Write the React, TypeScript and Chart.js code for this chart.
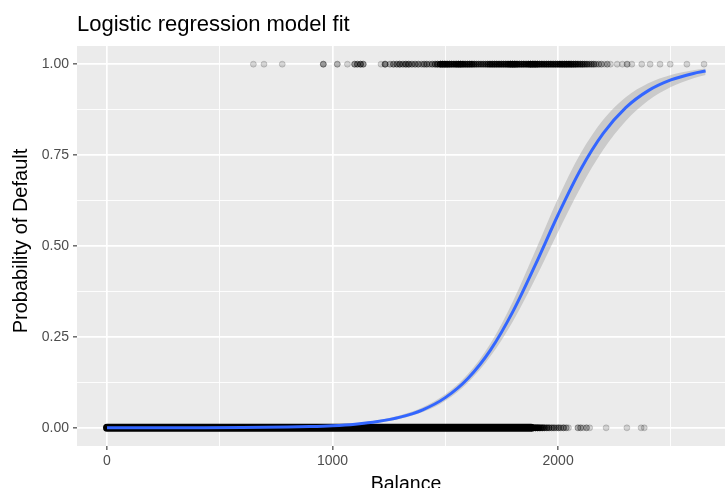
import React, { useEffect, useRef } from "react";
import { Chart, registerables } from "chart.js";

Chart.register(...registerables);

// Fitted logistic curve: balance grid, fitted probability and 95% band
const fitBalance = [0, 200, 400, 600, 800, 900, 1000, 1100, 1200, 1300, 1400, 1500, 1600, 1700, 1800, 1900, 2000, 2100, 2200, 2300, 2400, 2500, 2600, 2654];
const fitProb = [0.00002, 0.00007, 0.00021, 0.00064, 0.00192, 0.00333, 0.00575, 0.00993, 0.0171, 0.0293, 0.0496, 0.083, 0.1356, 0.2137, 0.3202, 0.4494, 0.5859, 0.7103, 0.8094, 0.8804, 0.9273, 0.9567, 0.9746, 0.981];
const fitLower = [0.00001, 0.00004, 0.00013, 0.00041, 0.00133, 0.0024, 0.00433, 0.00777, 0.01393, 0.02477, 0.04346, 0.0747, 0.1242, 0.1965, 0.2934, 0.4111, 0.5388, 0.6609, 0.7644, 0.8437, 0.9, 0.9373, 0.9613, 0.9703];
const fitUpper = [0.00005, 0.00013, 0.00037, 0.00101, 0.00278, 0.00462, 0.00765, 0.01268, 0.02096, 0.03452, 0.05656, 0.092, 0.1477, 0.2319, 0.3482, 0.4883, 0.6315, 0.7552, 0.8475, 0.9093, 0.9477, 0.9704, 0.9834, 0.9879];

// Defaulters (y = 1): [balance, number of customers at that balance]
const defaultObs: [number, number][] = [
  [649, 1], [696, 1], [777, 1], [959, 3], [1021, 2], [1066, 1], [1098, 3], [1110, 3], [1124, 4], [1136, 3],
  [1215, 1], [1233, 4], [1255, 2], [1270, 3], [1285, 3], [1298, 4], [1312, 3], [1325, 4], [1338, 4], [1352, 3],
  [1366, 3], [1380, 3], [1394, 2], [1406, 3], [1418, 3], [1430, 2], [1442, 3], [1455, 4], [1466, 5], [1478, 8],
  [1488, 8], [1498, 8], [1508, 8], [1518, 7], [1528, 6], [1538, 6], [1548, 7], [1558, 8], [1568, 8], [1578, 7],
  [1588, 6], [1598, 6], [1608, 6], [1618, 6], [1628, 5], [1638, 4], [1648, 4], [1658, 4], [1668, 4], [1678, 4],
  [1688, 5], [1698, 6], [1708, 6], [1718, 6], [1728, 6], [1738, 6], [1748, 6], [1758, 6], [1768, 6], [1778, 7],
  [1788, 9], [1798, 9], [1808, 9], [1818, 8], [1828, 6], [1838, 6], [1848, 6], [1858, 6], [1868, 7], [1878, 9],
  [1888, 9], [1898, 9], [1908, 8], [1918, 6], [1928, 6], [1938, 6], [1948, 6], [1958, 6], [1968, 6], [1978, 6],
  [1988, 6], [1998, 6], [2008, 7], [2018, 7], [2028, 7], [2038, 7], [2048, 7], [2058, 7], [2068, 6], [2078, 6],
  [2088, 5], [2098, 5], [2108, 5], [2118, 4], [2128, 4], [2138, 3], [2148, 3], [2158, 3], [2168, 2], [2180, 2],
  [2192, 2], [2205, 1], [2218, 2], [2232, 1], [2262, 1], [2285, 1], [2306, 2], [2327, 1], [2371, 1], [2408, 1],
  [2452, 1], [2497, 1], [2571, 1], [2647, 1],
];

// Non-defaulters (y = 0): balances where the points merge into one solid band
const nonDefaultSolidRange = [0, 1880];
// Non-defaulters above that band: [balance, count]
const nonDefaultTail: [number, number][] = [
  [1884, 8], [1892, 8], [1900, 7], [1908, 7], [1916, 6], [1924, 5], [1932, 5], [1940, 4], [1950, 4], [1960, 4],
  [1972, 3], [1982, 3], [1992, 2], [2002, 3], [2012, 2], [2024, 3], [2036, 2], [2046, 1], [2088, 2], [2100, 2],
  [2112, 1], [2126, 2], [2140, 1], [2213, 1], [2305, 1], [2368, 1], [2382, 1],
];

// Axis ticks
const xMajorTicks = [0, 1000, 2000];
const xMinorTicks = [500, 1500, 2500];
const yMajorTicks = [0, 0.25, 0.5, 0.75, 1];
const yMinorTicks = [0.125, 0.375, 0.625, 0.875];
const yTickLabels = ["0.00", "0.25", "0.50", "0.75", "1.00"];

const X_MIN = -133;
const X_MAX = 2740;
const Y_MIN = -0.05;
const Y_MAX = 1.05;

const FONT = '"Liberation Sans", Arial, Helvetica, sans-serif';
const PANEL_BG = "#EBEBEB";
const POINT_COLOR = "rgba(0,0,0,0.15)";

const expand = (obs: [number, number][], y: number) =>
  obs.flatMap(([b, n]) => Array.from({ length: n }, () => ({ x: b, y })));

const panelPlugin = {
  id: "panelDecor",
  beforeDraw(chart: any) {
    const { ctx, chartArea } = chart;
    ctx.save();
    ctx.fillStyle = PANEL_BG;
    ctx.fillRect(chartArea.left, chartArea.top, chartArea.right - chartArea.left, chartArea.bottom - chartArea.top);
    ctx.restore();
  },
  afterDraw(chart: any) {
    const { ctx, chartArea } = chart;
    ctx.save();
    ctx.fillStyle = "#000000";
    ctx.font = `22px ${FONT}`;
    ctx.textAlign = "left";
    ctx.textBaseline = "alphabetic";
    ctx.fillText("Logistic regression model fit", chartArea.left, 31);

    ctx.font = `19.5px ${FONT}`;
    ctx.textAlign = "center";
    ctx.fillText("Balance", 406, 490);

    ctx.font = `20px ${FONT}`;
    ctx.translate(27, (chartArea.top + chartArea.bottom) / 2 - 5);
    ctx.rotate(-Math.PI / 2);
    ctx.fillText("Probability of Default", 0, 0);
    ctx.restore();
  },
};

export default function App() {
  const canvasRef = useRef<HTMLCanvasElement | null>(null);

  useEffect(() => {
    document.body.style.margin = "0";
    const canvas = canvasRef.current;
    if (!canvas) return;

    const curve = (vals: number[]) => fitBalance.map((b, i) => ({ x: b, y: vals[i] }));
    const isMajor = (list: number[], v: number) => list.some((m) => Math.abs(m - v) < 1e-9);

    const chart = new Chart(canvas, {
      type: "scatter",
      data: {
        datasets: [
          {
            type: "line",
            label: "non-default band",
            data: nonDefaultSolidRange.map((b) => ({ x: b, y: 0 })),
            borderColor: "#000000",
            borderWidth: 8,
            borderCapStyle: "round",
            pointRadius: 0,
            fill: false,
            order: 4,
          } as any,
          {
            type: "scatter",
            label: "non-default",
            data: expand(nonDefaultTail, 0),
            backgroundColor: POINT_COLOR,
            borderColor: POINT_COLOR,
            borderWidth: 1,
            pointRadius: 3,
            order: 3,
          },
          {
            type: "scatter",
            label: "default",
            data: expand(defaultObs, 1),
            backgroundColor: POINT_COLOR,
            borderColor: POINT_COLOR,
            borderWidth: 1,
            pointRadius: 3,
            order: 3,
          },
          {
            type: "line",
            label: "lower",
            data: curve(fitLower),
            borderWidth: 0,
            borderColor: "rgba(0,0,0,0)",
            pointRadius: 0,
            fill: false,
            cubicInterpolationMode: "monotone",
            order: 2,
          } as any,
          {
            type: "line",
            label: "upper",
            data: curve(fitUpper),
            borderWidth: 0,
            borderColor: "rgba(0,0,0,0)",
            backgroundColor: "rgba(153,153,153,0.4)",
            pointRadius: 0,
            fill: "-1",
            cubicInterpolationMode: "monotone",
            order: 2,
          } as any,
          {
            type: "line",
            label: "fit",
            data: curve(fitProb),
            borderColor: "#3366FF",
            borderWidth: 3,
            pointRadius: 0,
            fill: false,
            cubicInterpolationMode: "monotone",
            order: 1,
          } as any,
        ],
      },
      options: {
        responsive: false,
        animation: false,
        events: [],
        layout: { autoPadding: false, padding: { top: 46, left: 0, right: 0, bottom: 0 } },
        plugins: {
          legend: { display: false },
          tooltip: { enabled: false },
          title: { display: false },
        },
        scales: {
          x: {
            type: "linear",
            position: "bottom",
            min: X_MIN,
            max: X_MAX,
            afterBuildTicks: (s: any) => {
              s.ticks = [...xMajorTicks, ...xMinorTicks].sort((a, b) => a - b).map((v) => ({ value: v }));
            },
            afterFit: (s: any) => {
              s.height = 42;
              s.paddingLeft = 0;
              s.paddingRight = 0;
            },
            ticks: {
              autoSkip: false,
              maxRotation: 0,
              minRotation: 0,
              padding: 3,
              color: "#4D4D4D",
              font: { family: FONT, size: 14 },
              callback: (v: any) => (isMajor(xMajorTicks, Number(v)) ? String(v) : ""),
            },
            grid: {
              color: "#FFFFFF",
              lineWidth: (c: any) => (c.tick && isMajor(xMajorTicks, c.tick.value) ? 1.7 : 0.9),
              tickColor: (c: any) => (c.tick && isMajor(xMajorTicks, c.tick.value) ? "#333333" : "rgba(0,0,0,0)"),
              tickLength: 4,
              tickWidth: 1.1,
            },
            border: { display: false },
          },
          y: {
            type: "linear",
            position: "left",
            min: Y_MIN,
            max: Y_MAX,
            afterBuildTicks: (s: any) => {
              s.ticks = [...yMajorTicks, ...yMinorTicks].sort((a, b) => a - b).map((v) => ({ value: v }));
            },
            afterFit: (s: any) => {
              s.width = 77;
            },
            ticks: {
              autoSkip: false,
              padding: 4,
              color: "#4D4D4D",
              font: { family: FONT, size: 14 },
              callback: (v: any) => {
                const i = yMajorTicks.findIndex((m) => Math.abs(m - Number(v)) < 1e-9);
                return i >= 0 ? yTickLabels[i] : "";
              },
            },
            grid: {
              color: "#FFFFFF",
              lineWidth: (c: any) => (c.tick && isMajor(yMajorTicks, c.tick.value) ? 1.7 : 0.9),
              tickColor: (c: any) => (c.tick && isMajor(yMajorTicks, c.tick.value) ? "#333333" : "rgba(0,0,0,0)"),
              tickLength: 4,
              tickWidth: 1.1,
            },
            border: { display: false },
          },
        },
      },
      plugins: [panelPlugin],
    });

    return () => chart.destroy();
  }, []);

  return <canvas ref={canvasRef} width={725} height={488} style={{ display: "block" }} />;
}
